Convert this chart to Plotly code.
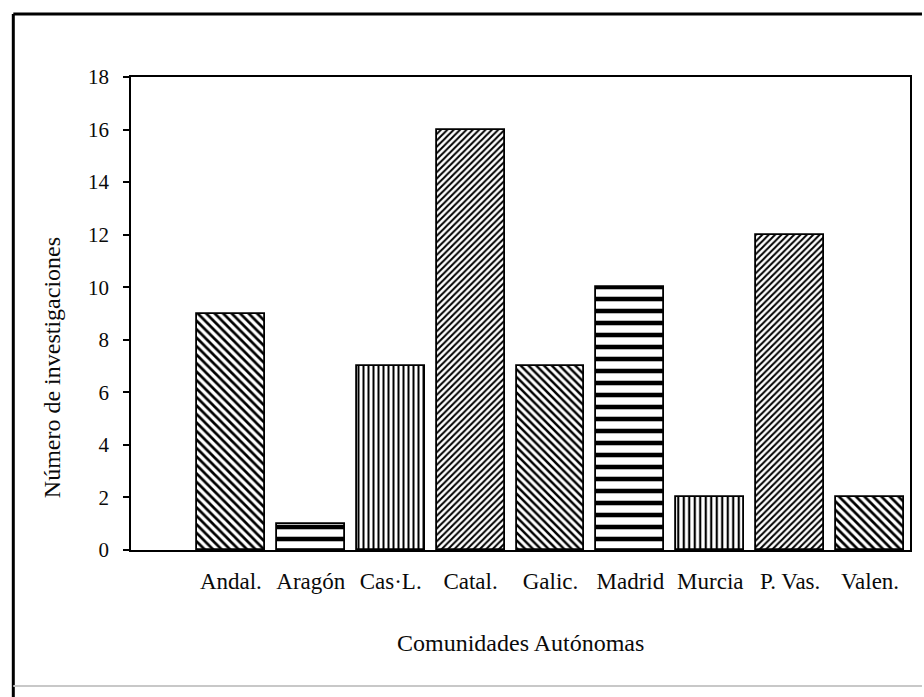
import plotly.graph_objects as go

categories = ["Andal.", "Aragón", "Cas·L.", "Catal.", "Galic.", "Madrid", "Murcia", "P. Vas.", "Valen."]
values = [9, 1, 7, 16, 7, 10, 2, 12, 2]
y_ticks = [0, 2, 4, 6, 8, 10, 12, 14, 16, 18]

pattern_shapes = ["\\", "-", "|", "/", "\\", "-", "|", "/", "\\"]
pattern_sizes = [6, 12, 5, 4.5, 5.5, 12, 5.5, 4.5, 6]
pattern_solidity = [0.45, 0.38, 0.4, 0.45, 0.45, 0.38, 0.4, 0.45, 0.45]

W, H = 924, 697
L, R, T, B = 131, 12, 77, 147
pw, ph = W - L - R, H - T - B

def px(x):
    return (x - L) / pw

def py(y):
    return (H - B - y) / ph

FONT = "Liberation Serif"
INK = "#0a0a0a"

fig = go.Figure()
fig.add_trace(go.Bar(
    x=list(range(len(categories))),
    y=values,
    width=0.85,
    marker=dict(
        color="white",
        line=dict(color="black", width=1.8),
        pattern=dict(shape=pattern_shapes, size=pattern_sizes,
                     solidity=pattern_solidity, fgcolor="black",
                     bgcolor="white", fillmode="replace"),
    ),
    hoverinfo="x+y",
))

fig.update_layout(
    width=W, height=H,
    margin=dict(l=L, r=R, t=T, b=B, pad=0),
    paper_bgcolor="white", plot_bgcolor="white",
    showlegend=False,
    font=dict(family=FONT, color=INK, size=21),
    bargap=0,
)
fig.update_xaxes(
    range=[-1.25, 8.5],
    tickmode="array", tickvals=list(range(len(categories))), ticktext=categories,
    ticks="", showgrid=False, zeroline=False,
    showline=True, linecolor="black", linewidth=2, mirror=True,
    tickfont=dict(family=FONT, size=23, color=INK),
    ticklabelstandoff=9,
)
fig.update_yaxes(
    range=[0, 18],
    tickmode="array", tickvals=y_ticks,
    ticks="outside", ticklen=6, tickwidth=1.5, tickcolor="black",
    showgrid=False, zeroline=False,
    showline=True, linecolor="black", linewidth=1.5, mirror=True,
    tickfont=dict(family=FONT, size=21, color=INK),
    ticklabelstandoff=10,
)

fig.add_annotation(text="Comunidades Autónomas", xref="paper", yref="paper",
                   x=0.5, y=py(643), showarrow=False,
                   font=dict(family=FONT, size=24, color=INK),
                   xanchor="center", yanchor="middle")
fig.add_annotation(text="Número de investigaciones", xref="paper", yref="paper",
                   x=px(52), y=py(368), showarrow=False, textangle=-90,
                   font=dict(family=FONT, size=24, color=INK),
                   xanchor="center", yanchor="middle")

# page frame
fig.add_shape(type="line", xref="paper", yref="paper",
              x0=px(13), x1=px(924), y0=py(14), y1=py(14),
              line=dict(color="black", width=3))
fig.add_shape(type="line", xref="paper", yref="paper",
              x0=px(13), x1=px(13), y0=py(14), y1=py(697),
              line=dict(color="black", width=3))
fig.add_shape(type="line", xref="paper", yref="paper",
              x0=px(13), x1=px(924), y0=py(686), y1=py(686),
              line=dict(color="#c8c8c8", width=2))

fig.write_html("out.html", config={"displayModeBar": False},
               post_script="document.body.style.margin='0';")
